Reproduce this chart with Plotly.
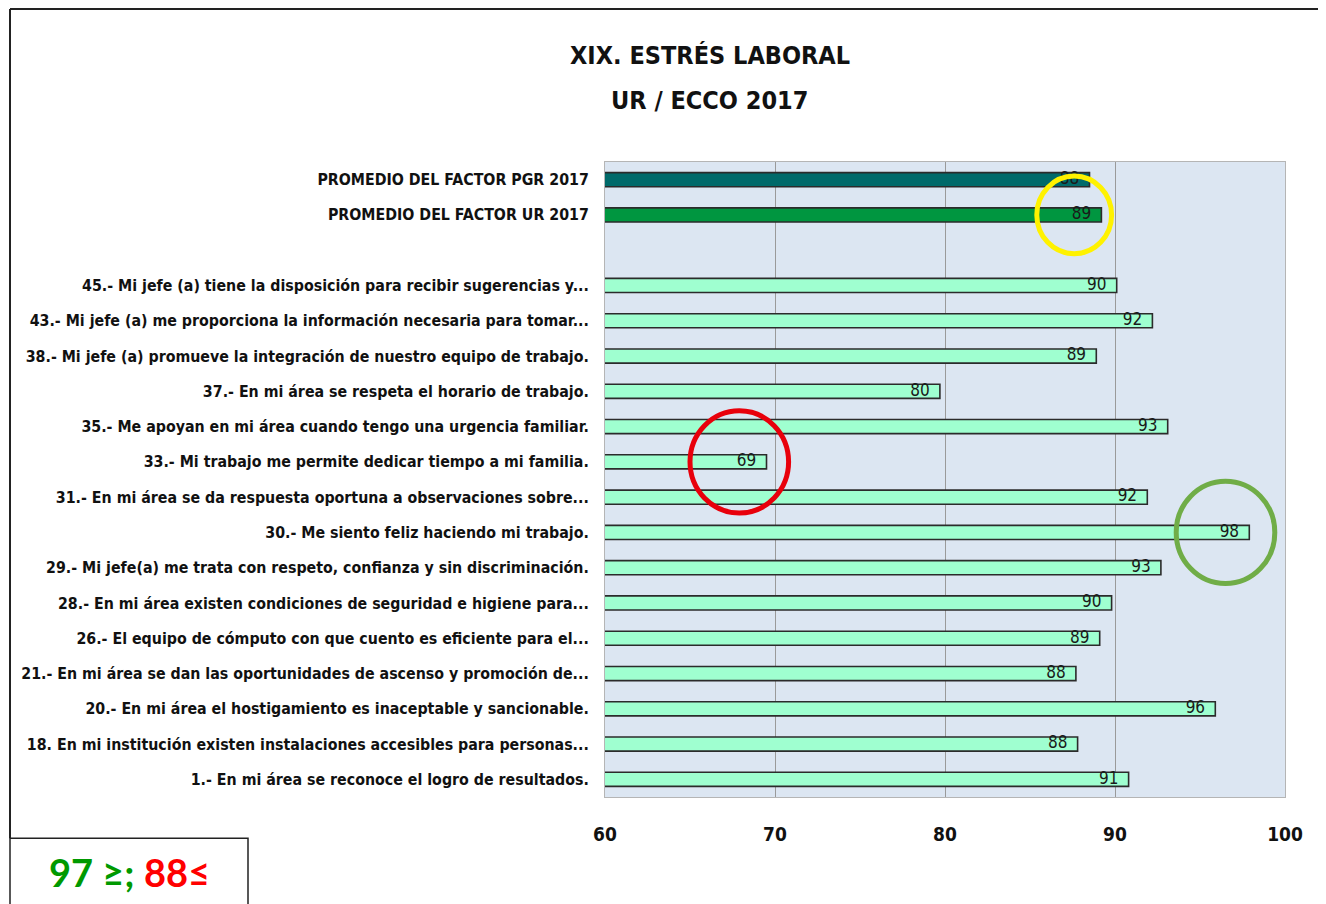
import plotly.graph_objects as go

# categories, top to bottom (blank row separates the averages)
etiquetas = [
    "PROMEDIO DEL FACTOR PGR 2017",
    "PROMEDIO DEL FACTOR UR 2017",
    " ",
    "45.- Mi jefe (a) tiene la disposición para recibir sugerencias y...",
    "43.- Mi jefe (a) me proporciona la información necesaria para tomar...",
    "38.- Mi jefe (a) promueve la integración de nuestro equipo de trabajo.",
    "37.- En mi área se respeta el horario de trabajo.",
    "35.- Me apoyan en mi área cuando tengo una urgencia familiar.",
    "33.- Mi trabajo me permite dedicar tiempo a mi familia.",
    "31.- En mi área se da respuesta oportuna a observaciones sobre...",
    "30.- Me siento feliz haciendo mi trabajo.",
    "29.- Mi jefe(a) me trata con respeto, confianza y sin discriminación.",
    "28.- En mi área existen condiciones de seguridad e higiene para...",
    "26.- El equipo de cómputo con que cuento es eficiente para el...",
    "21.- En mi área se dan las oportunidades de ascenso y promoción de...",
    "20.- En mi área el hostigamiento es inaceptable y sancionable.",
    "18. En mi institución existen instalaciones accesibles para personas...",
    "1.- En mi área se reconoce el logro de resultados.",
]
valores = [88.5, 89.2, None, 90.1, 92.2, 88.9, 79.7, 93.1, 69.5, 91.9,
           97.9, 92.7, 89.8, 89.1, 87.7, 95.9, 87.8, 90.8]
textos = ["88", "89", "", "90", "92", "89", "80", "93", "69", "92",
          "98", "93", "90", "89", "88", "96", "88", "91"]
colores = ["#006A6A", "#009640", "#9FFFD0"] + ["#9FFFD0"] * 15
ticks_x = [60, 70, 80, 90, 100]

fuente = "DejaVu Sans Condensed, Liberation Sans Narrow, sans-serif"

fig = go.Figure()
fig.add_trace(go.Bar(
    y=etiquetas,
    x=valores,
    orientation="h",
    width=0.4,
    marker=dict(color=colores, line=dict(color="#2b2b2b", width=1.6)),
    hoverinfo="x+y",
))
# value labels sitting over the end of each bar
fig.add_trace(go.Scatter(
    y=etiquetas,
    x=[v - 0.6 if v is not None else None for v in valores],
    mode="text",
    text=textos,
    textposition="middle left",
    textfont=dict(family=fuente, size=17, color="#1a1a1a"),
    cliponaxis=False,
    hoverinfo="skip",
))

# highlight circles (yellow = UR average, red = lowest, green = highest)
circulos = [
    (87.6, "PROMEDIO DEL FACTOR UR 2017", 2.2, 1.1, "#FFF200"),
    (67.9, "33.- Mi trabajo me permite dedicar tiempo a mi familia.", 2.9, 1.45, "#E8000B"),
    (96.5, "30.- Me siento feliz haciendo mi trabajo.", 2.9, 1.45, "#70AD47"),
]
for cx, cat, rx, ry, col in circulos:
    i = etiquetas.index(cat)
    fig.add_shape(type="circle", xref="x", yref="y",
                  x0=cx - rx, x1=cx + rx, y0=i - ry, y1=i + ry,
                  line=dict(color=col, width=5))

# outer frame and legend box
fig.add_shape(type="line", xref="paper", yref="paper",
              x0=-0.875, x1=1.1, y0=1.241, y1=1.241, line=dict(color="#222", width=2))
fig.add_shape(type="line", xref="paper", yref="paper",
              x0=-0.875, x1=-0.875, y0=1.241, y1=-0.065, line=dict(color="#222", width=2))
fig.add_shape(type="rect", xref="paper", yref="paper",
              x0=-0.875, x1=-0.525, y0=-0.065, y1=-0.2, line=dict(color="#222", width=1.5),
              fillcolor="white")
fig.add_annotation(xref="paper", yref="paper", x=-0.7, y=-0.118,
                   xanchor="center", yanchor="middle", showarrow=False,
                   text="<b><span style='color:#009900'>97 ≥;</span> "
                        "<span style='color:#FF0000'>88≤</span></b>",
                   font=dict(family="Lato, Open Sans, sans-serif", size=38))

# title as two centred lines
fig.add_annotation(xref="paper", yref="paper", x=0.154, y=1.168,
                   xanchor="center", yanchor="middle", showarrow=False,
                   text="<b>XIX. ESTRÉS LABORAL</b>",
                   font=dict(family=fuente, size=25, color="#111"))
fig.add_annotation(xref="paper", yref="paper", x=0.154, y=1.097,
                   xanchor="center", yanchor="middle", showarrow=False,
                   text="<b>UR / ECCO 2017</b>",
                   font=dict(family=fuente, size=25, color="#111"))

fig.update_layout(
    width=1318, height=896,
    margin=dict(l=597, r=41, t=154, b=107),
    paper_bgcolor="white",
    plot_bgcolor="#DCE6F2",
    showlegend=False,
    font=dict(family=fuente, color="#111"),
)
fig.update_xaxes(range=[60, 100], tickvals=ticks_x, showgrid=True,
                 gridcolor="#9a9a9a", gridwidth=1, zeroline=False,
                 ticklabelstandoff=20, automargin=False,
                 tickfont=dict(family=fuente, size=19, color="#111", weight="bold"),
                 showline=True, linecolor="#b5b5b5", mirror=True)
fig.update_yaxes(range=[len(etiquetas) - 0.5, -0.5],
                 categoryorder="array", categoryarray=etiquetas,
                 tickfont=dict(family=fuente, size=15.8, color="#111", weight="bold"),
                 ticklabelstandoff=12, automargin=False,
                 showline=True, linecolor="#b5b5b5", mirror=True)

fig.write_html("out.html")
